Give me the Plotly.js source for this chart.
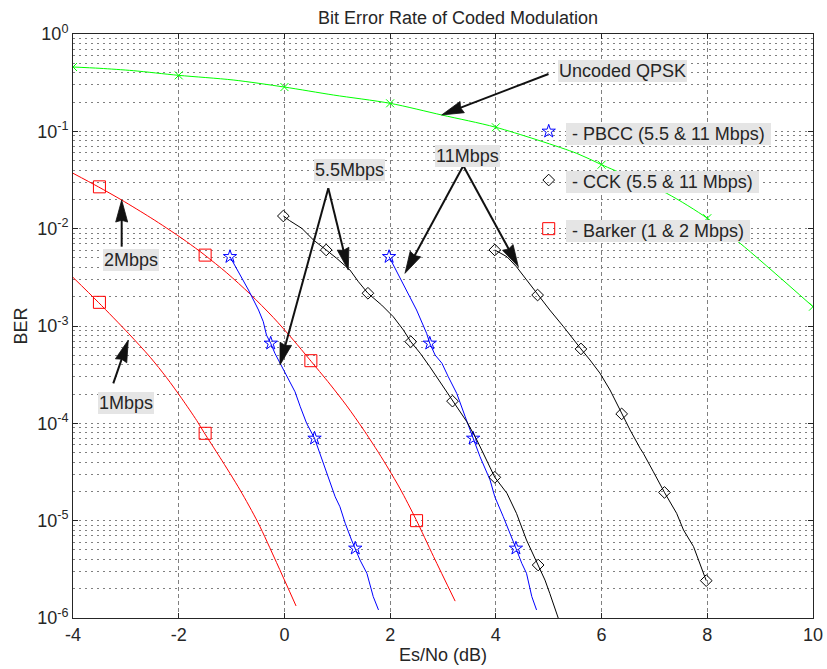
<!DOCTYPE html>
<html><head><meta charset="utf-8">
<script src="https://cdn.plot.ly/plotly-3.0.1.min.js"></script>
<style>html,body{margin:0;padding:0;background:#fff}#chart{width:827px;height:669px}</style>
</head><body><div id="chart"></div>
<script>
// ---------------- data (BER values) ----------------
const qpskLineX = [-4, -3.49, -2.86, -2, -0.97, 0, 0.93, 2, 2.98, 4, 5.53, 6, 7.23, 8, 8.62, 10];
const qpskLineY = [0.458, 0.444, 0.420, 0.376, 0.337, 0.285, 0.236, 0.194, 0.147, 0.110, 0.0594, 0.0454, 0.0231, 0.0128, 0.00708, 0.00158];
const qpskMarkX = [-4, -2, 0, 2, 4, 6, 8, 10];
const qpskMarkY = [0.458, 0.376, 0.285, 0.194, 0.110, 0.0454, 0.0128, 0.00158];

const barker2LineX = [-4, -3.52, -3.08, -2.54, -2.23, -1.85, -1.52, -1.09, -0.65, -0.21, 0.17, 0.47, 0.86, 1.18, 1.49, 1.78, 1.97, 2.19, 2.49, 2.82, 3.23];
const barker2LineY = [0.0371, 0.0269, 0.0197, 0.01306, 0.01016, 7.35e-3, 5.42e-3, 3.51e-3, 2.13e-3, 1.222e-3, 7.16e-4, 4.57e-4, 2.53e-4, 1.51e-4, 8.71e-5, 5.01e-5, 3.40e-5, 2.12e-5, 1.028e-5, 4.29e-6, 1.49e-6];
const barker2MarkX = [-3.5, -1.5, 0.5, 2.5];
const barker2MarkY = [0.0269, 5.35e-3, 4.4e-4, 1.0e-5];

const barker1LineX = [-4, -3.52, -2.95, -2.54, -2.23, -1.94, -1.66, -1.52, -1.22, -0.84, -0.5, -0.15, 0.22];
const barker1LineY = [3.16e-3, 1.75e-3, 8.39e-4, 4.78e-4, 2.95e-4, 1.79e-4, 1.07e-4, 8.04e-5, 4.47e-5, 2.07e-5, 9.55e-6, 3.72e-6, 1.33e-6];
const barker1MarkX = [-3.5, -1.5];
const barker1MarkY = [1.75e-3, 7.9e-5];

const pbcc55LineX = [-1.03, -0.68, -0.49, -0.40, -0.34, -0.26, -0.18, -0.08, 0.01, 0.11, 0.20, 0.30, 0.42, 0.57, 0.67, 0.80, 0.96, 1.05, 1.15, 1.27, 1.34, 1.43, 1.56, 1.68, 1.78];
const pbcc55LineY = [5.15e-3, 2.34e-3, 1.46e-3, 1.107e-3, 8.07e-4, 6.64e-4, 5.24e-4, 4.14e-4, 3.27e-4, 2.58e-4, 2.11e-4, 1.48e-4, 1.0e-4, 7.01e-5, 4.92e-5, 3.07e-5, 1.76e-5, 1.39e-5, 9.4e-6, 6.32e-6, 5.2e-6, 3.94e-6, 2.88e-6, 1.66e-6, 1.21e-6];
const pbcc55MarkX = [-1.03, -0.26, 0.57, 1.34];
const pbcc55MarkY = [5.15e-3, 6.64e-4, 7.01e-5, 5.2e-6];

const pbcc11LineX = [1.98, 2.28, 2.50, 2.69, 2.75, 2.85, 2.98, 3.10, 3.26, 3.42, 3.57, 3.70, 3.89, 3.98, 4.14, 4.30, 4.38, 4.49, 4.58, 4.68, 4.77];
const pbcc11LineY = [5.15e-3, 2.54e-3, 1.46e-3, 8.41e-4, 6.64e-4, 5.04e-4, 4.14e-4, 3.01e-4, 2.03e-4, 1.17e-4, 7.01e-5, 4.54e-5, 2.62e-5, 1.76e-5, 1.10e-5, 6.84e-6, 5.2e-6, 3.65e-6, 2.88e-6, 1.66e-6, 1.21e-6];
const pbcc11MarkX = [1.98, 2.75, 3.57, 4.38];
const pbcc11MarkY = [5.15e-3, 6.64e-4, 7.01e-5, 5.2e-6];

const cck55LineX = [-0.02, 0.10, 0.33, 0.55, 0.79, 0.99, 1.24, 1.40, 1.58, 1.84, 2.06, 2.25, 2.39, 2.57, 2.75, 2.94, 3.18, 3.35, 3.45, 3.64, 3.98, 4.21, 4.39, 4.58, 4.80, 4.93, 5.02, 5.18];
const cck55LineY = [0.01349, 0.01208, 0.01007, 7.64e-3, 6.04e-3, 4.95e-3, 3.76e-3, 2.85e-3, 2.17e-3, 1.64e-3, 1.245e-3, 9.1e-4, 6.9e-4, 5.24e-4, 3.82e-4, 2.68e-4, 1.69e-4, 1.22e-4, 1.04e-4, 6.75e-5, 2.79e-5, 1.91e-5, 1.19e-5, 6.32e-6, 3.5e-6, 2.45e-6, 1.79e-6, 1.0e-6];
const cck55MarkX = [-0.02, 0.79, 1.58, 2.39, 3.18, 3.98, 4.80];
const cck55MarkY = [0.01349, 6.04e-3, 2.17e-3, 6.9e-4, 1.69e-4, 2.79e-5, 3.5e-6];

const cck11LineX = [3.98, 4.21, 4.39, 4.58, 4.79, 5.02, 5.28, 5.47, 5.61, 5.78, 5.97, 6.16, 6.38, 6.54, 6.73, 6.79, 6.98, 7.19, 7.42, 7.55, 7.74, 7.89, 7.98];
const cck11LineY = [6.04e-3, 5.15e-3, 4.06e-3, 2.97e-3, 2.08e-3, 1.46e-3, 9.84e-4, 7.18e-4, 5.81e-4, 4.48e-4, 3.27e-4, 2.20e-4, 1.25e-4, 8.53e-5, 5.53e-5, 4.92e-5, 3.18e-5, 1.95e-5, 1.19e-5, 8.02e-6, 5.41e-6, 3.37e-6, 2.42e-6];
const cck11MarkX = [3.98, 4.79, 5.61, 6.38, 7.19, 7.98];
const cck11MarkY = [6.04e-3, 2.08e-3, 5.81e-4, 1.25e-4, 1.95e-5, 2.42e-6];

// key symbols drawn inside the axes
const keyX = [5, 5, 5];
const keyY = [0.1, 0.0316, 0.01];
const keyLabels = ['- PBCC (5.5 & 11 Mbps)', '- CCK (5.5 & 11 Mbps)', '- Barker (1 & 2 Mbps)'];

// tick labels
const xTickVals = [-4, -2, 0, 2, 4, 6, 8, 10];
const xTickText = ['-4', '-2', '0', '2', '4', '6', '8', '10'];
const yTickVals = [1e-6, 1e-5, 1e-4, 1e-3, 1e-2, 1e-1, 1];
const yTickText = ['10<sup>-6</sup>', '10<sup>-5</sup>', '10<sup>-4</sup>', '10<sup>-3</sup>', '10<sup>-2</sup>', '10<sup>-1</sup>', '10<sup>0</sup>'];

// ---------------- styles ----------------
const FONT = 'Liberation Sans, Arial, Helvetica, sans-serif';
const TXT = '#262626';
const GREEN = '#00ff00', RED = '#ff0000', BLUE = '#0000ff', BLACK = '#000000';
const W = 827, H = 669;
const M = {l: 73, r: 14, t: 34, b: 51};
const XR = [-4, 10], YR = [-6, 0];
const plotW = W - M.l - M.r, plotH = H - M.t - M.b;
const pxX = plotW / (XR[1] - XR[0]);   // pixels per dB
const pxY = plotH / (YR[1] - YR[0]);   // pixels per decade

function lineTrace(x, y, color, smooth) {
  const ln = {color, width: 1};
  if (smooth) { ln.shape = 'spline'; ln.smoothing = 0.8; }
  return {x, y, type: 'scatter', mode: 'lines', line: ln, hoverinfo: 'skip', showlegend: false};
}
function markTrace(x, y, color, symbol, size) {
  return {x, y, type: 'scatter', mode: 'markers', marker: {color, symbol, size, line: {color, width: 1}}, hoverinfo: 'skip', showlegend: false};
}

const traces = [
  lineTrace(qpskLineX, qpskLineY, GREEN, true),
  markTrace(qpskMarkX, qpskMarkY, GREEN, 'x-thin-open', 8),
  lineTrace(barker2LineX, barker2LineY, RED, true),
  markTrace(barker2MarkX, barker2MarkY, RED, 'square-open', 12),
  lineTrace(barker1LineX, barker1LineY, RED, true),
  markTrace(barker1MarkX, barker1MarkY, RED, 'square-open', 12),
  lineTrace(pbcc55LineX, pbcc55LineY, BLUE),
  markTrace(pbcc55MarkX, pbcc55MarkY, BLUE, 'star-open', 10),
  lineTrace(pbcc11LineX, pbcc11LineY, BLUE),
  markTrace(pbcc11MarkX, pbcc11MarkY, BLUE, 'star-open', 10),
  lineTrace(cck55LineX, cck55LineY, BLACK),
  markTrace(cck55MarkX, cck55MarkY, BLACK, 'diamond-open', 9),
  lineTrace(cck11LineX, cck11LineY, BLACK),
  markTrace(cck11MarkX, cck11MarkY, BLACK, 'diamond-open', 9),
  markTrace([keyX[0]], [keyY[0]], BLUE, 'star-open', 10),
  markTrace([keyX[1]], [keyY[1]], BLACK, 'diamond-open', 9),
  markTrace([keyX[2]], [keyY[2]], RED, 'square-open', 12)
];

// arrows: [tailX, tailLogY, headX, headLogY] (axis units)
const arrows = [
  [4.996, -0.411, 2.975, -0.832],
  [0.830, -1.585, -0.084, -3.401],
  [0.830, -1.585, 1.208, -2.425],
  [3.384, -1.353, 2.281, -2.459],
  [3.384, -1.353, 4.425, -2.391],
  [-3.079, -2.185, -3.079, -1.706],
  [-3.238, -3.589, -2.954, -3.144]
];
// pixel (y up, from plot origin) -> paper fraction
const toPaper = (px, py) => [(px / plotW).toFixed(5), (py / plotH).toFixed(5)];
const shapes = [];
arrows.forEach(a => {
  const [tx, ty, hx, hy] = a;
  const tX = (tx - XR[0]) * pxX, tY = (ty - YR[0]) * pxY;
  const hX = (hx - XR[0]) * pxX, hY = (hy - YR[0]) * pxY;
  const dx = hX - tX, dy = hY - tY;
  const len = Math.hypot(dx, dy);
  const ux = dx / len, uy = dy / len, nx = -uy, ny = ux;
  const L = 22, hw = 6;
  const bX = hX - ux * L, bY = hY - uy * L;
  const p = (x, y) => toPaper(x, y).join(',');
  shapes.push({type: 'path', xref: 'paper', yref: 'paper', layer: 'above',
    path: `M${p(tX, tY)} L${p(hX - ux * L * 0.8, hY - uy * L * 0.8)}`,
    line: {color: '#111', width: 2}});
  shapes.push({type: 'path', xref: 'paper', yref: 'paper', layer: 'above',
    path: `M${p(hX, hY)} L${p(bX + nx * hw, bY + ny * hw)} L${p(hX - ux * L * 0.92, hY - uy * L * 0.92)} L${p(bX - nx * hw, bY - ny * hw)} Z`,
    fillcolor: '#111', line: {color: '#111', width: 0.8}});
});

function label(text, x, ly, anchor) {
  return {text, x, y: ly, xref: 'x', yref: 'y', xanchor: anchor || 'center', yanchor: 'middle',
    showarrow: false, bgcolor: '#e5e5e5', borderpad: 1, borderwidth: 0,
    font: {family: FONT, size: 18, color: TXT}};
}
const NB = '\u00a0';
const annotations = [
  label('Uncoded QPSK', 6.405, -0.380),
  label('5.5Mbps', 1.240, -1.402),
  label('11Mbps', 3.454, -1.253),
  label('2Mbps', -2.912, -2.325),
  label('1Mbps', -2.997, -3.786),
  label(NB + keyLabels[0] + NB, 5.327, Math.log10(keyY[0]) - 0.027, 'left'),
  label(NB + keyLabels[1] + NB, 5.327, Math.log10(keyY[1]) - 0.023, 'left'),
  label(NB + keyLabels[2] + NB, 5.327, Math.log10(keyY[2]) - 0.022, 'left')
];

const layout = {
  width: W, height: H,
  margin: M,
  paper_bgcolor: '#ffffff', plot_bgcolor: '#ffffff',
  font: {family: FONT, size: 18, color: TXT},
  showlegend: false,
  title: {text: 'Bit Error Rate of Coded Modulation', x: 458 / W, xref: 'container', xanchor: 'center',
    y: 1 - 18 / H, yref: 'container', yanchor: 'middle', font: {family: FONT, size: 18, color: TXT}},
  xaxis: {
    range: XR, tickmode: 'array', tickvals: xTickVals, ticktext: xTickText,
    showgrid: true, gridcolor: '#808080', gridwidth: 1, griddash: '4px,3px', zeroline: false,
    ticks: 'inside', ticklen: 5, tickcolor: '#262626', showline: true, linecolor: '#262626', linewidth: 1, mirror: 'ticks',
    tickfont: {family: FONT, size: 18, color: TXT},
    title: {text: 'Es/No (dB)', font: {family: FONT, size: 18, color: TXT}, standoff: 4},
    automargin: false, fixedrange: true
  },
  yaxis: {
    type: 'log', range: YR, tickmode: 'array', tickvals: yTickVals, ticktext: yTickText,
    showgrid: true, gridcolor: '#808080', gridwidth: 1, griddash: '2px,4px', zeroline: false,
    ticks: 'inside', ticklen: 5, tickcolor: '#262626', showline: true, linecolor: '#262626', linewidth: 1, mirror: 'ticks',
    tickfont: {family: FONT, size: 18, color: TXT},
    minor: {dtick: 'D1', showgrid: true, gridcolor: '#808080', gridwidth: 1, griddash: '2px,4px', ticks: ''},
    title: {text: 'BER', font: {family: FONT, size: 18, color: TXT}, standoff: 4},
    automargin: false, fixedrange: true
  },
  shapes, annotations
};

Plotly.newPlot('chart', traces, layout, {displayModeBar: false, staticPlot: true});
</script>
</body></html>
